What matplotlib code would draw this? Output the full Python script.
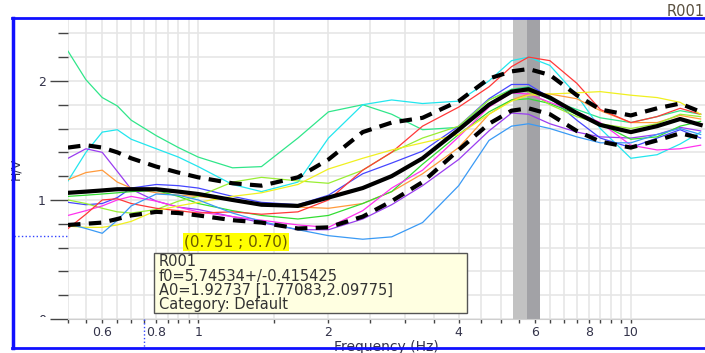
import numpy as np
import matplotlib
matplotlib.use("Agg")
import matplotlib.pyplot as plt
from matplotlib.lines import Line2D
from matplotlib.patches import Rectangle
from matplotlib.ticker import FixedLocator, FixedFormatter, NullFormatter
from matplotlib.transforms import blended_transform_factory, Bbox, TransformedBbox

# H/V spectral ratio, station R001
freq = [0.5, 0.55, 0.6, 0.65, 0.7, 0.8, 0.9, 1.0, 1.2, 1.4, 1.7, 2.0, 2.4,
        2.8, 3.3, 4.0, 4.7, 5.3, 5.8, 6.5, 7.5, 8.5, 10, 11.5, 13, 14.5]

hv_mean = [1.06, 1.07, 1.08, 1.09, 1.09, 1.09, 1.07, 1.05, 1.00, 0.96, 0.95, 1.02, 1.10,
           1.20, 1.35, 1.59, 1.80, 1.91, 1.93, 1.86, 1.73, 1.63, 1.57, 1.62, 1.68, 1.63]
hv_upper = [1.44, 1.46, 1.44, 1.40, 1.35, 1.28, 1.23, 1.19, 1.14, 1.12, 1.19, 1.34, 1.57,
            1.65, 1.69, 1.83, 2.02, 2.08, 2.10, 2.05, 1.88, 1.76, 1.71, 1.77, 1.81, 1.74]
hv_lower = [0.79, 0.80, 0.81, 0.84, 0.87, 0.90, 0.89, 0.87, 0.83, 0.81, 0.76, 0.77, 0.86,
            0.99, 1.15, 1.42, 1.64, 1.75, 1.77, 1.72, 1.58, 1.49, 1.44, 1.50, 1.56, 1.52]

# individual time windows
w_spring = [2.25, 2.01, 1.86, 1.79, 1.67, 1.54, 1.44, 1.36, 1.27, 1.28, 1.52, 1.74, 1.80,
            1.72, 1.59, 1.61, 1.84, 1.93, 1.95, 1.84, 1.76, 1.69, 1.65, 1.70, 1.75, 1.72]
w_cyan = [1.16, 1.40, 1.57, 1.59, 1.51, 1.43, 1.36, 1.28, 1.13, 1.07, 1.15, 1.52, 1.80,
          1.84, 1.81, 1.83, 2.00, 2.17, 2.20, 2.13, 1.88, 1.60, 1.35, 1.38, 1.47, 1.57]
w_purple = [1.35, 1.43, 1.40, 1.24, 1.09, 0.99, 0.94, 0.92, 0.86, 0.81, 0.75, 0.75, 0.84,
            0.96, 1.12, 1.34, 1.58, 1.73, 1.72, 1.64, 1.57, 1.53, 1.52, 1.55, 1.61, 1.58]
w_orange = [1.17, 1.23, 1.25, 1.15, 1.10, 1.06, 1.04, 1.03, 1.00, 0.97, 0.94, 0.93, 0.97,
            1.07, 1.22, 1.44, 1.72, 1.84, 1.89, 1.89, 1.85, 1.75, 1.65, 1.65, 1.71, 1.68]
w_blue = [0.98, 0.96, 0.97, 1.02, 1.10, 1.13, 1.12, 1.10, 1.03, 0.98, 0.96, 1.04, 1.22,
          1.31, 1.41, 1.62, 1.85, 1.97, 1.97, 1.86, 1.67, 1.52, 1.44, 1.52, 1.59, 1.52]
w_green = [1.03, 1.04, 1.05, 1.06, 1.07, 1.08, 1.03, 0.97, 0.91, 0.87, 0.84, 0.87, 0.97,
           1.07, 1.30, 1.55, 1.74, 1.84, 1.85, 1.81, 1.72, 1.64, 1.51, 1.53, 1.62, 1.66]
w_lime = [1.00, 0.97, 0.93, 0.90, 0.89, 0.92, 0.99, 1.03, 1.15, 1.19, 1.16, 1.14, 1.25,
          1.40, 1.52, 1.62, 1.84, 1.92, 1.91, 1.80, 1.70, 1.64, 1.60, 1.64, 1.72, 1.70]
w_magenta = [0.87, 0.91, 0.95, 1.00, 1.03, 0.99, 0.94, 0.90, 0.86, 0.83, 0.79, 0.77, 0.91,
             1.10, 1.25, 1.53, 1.78, 1.90, 1.89, 1.82, 1.74, 1.65, 1.46, 1.42, 1.43, 1.46]
w_red = [0.76, 0.88, 1.00, 1.01, 0.97, 0.93, 0.91, 0.89, 0.90, 0.88, 0.90, 1.00, 1.25,
         1.40, 1.62, 1.78, 1.95, 2.12, 2.20, 2.17, 1.98, 1.76, 1.65, 1.70, 1.77, 1.72]
w_yellow = [0.78, 0.77, 0.77, 0.79, 0.82, 0.91, 0.95, 0.98, 1.03, 1.06, 1.13, 1.26, 1.35,
            1.42, 1.48, 1.55, 1.72, 1.83, 1.88, 1.89, 1.90, 1.91, 1.88, 1.86, 1.82, 1.72]
w_dodger = [0.80, 0.76, 0.72, 0.83, 0.95, 1.05, 1.04, 1.00, 0.89, 0.82, 0.75, 0.70, 0.67,
            0.69, 0.81, 1.12, 1.50, 1.62, 1.64, 1.60, 1.53, 1.48, 1.48, 1.55, 1.60, 1.55]

windows = [
    (w_spring, "#30e68a"), (w_cyan, "#22e6ee"), (w_purple, "#9a3cf0"),
    (w_orange, "#ff9a3c"), (w_blue, "#4646ff"), (w_green, "#33dd33"),
    (w_lime, "#99ee33"), (w_magenta, "#ff33ee"), (w_red, "#ff3838"),
    (w_yellow, "#f0f020"), (w_dodger, "#3a9af5"),
]

f0 = 5.74534
f0_std = 0.415425
cursor_f = 0.751
cursor_hv = 0.70

x_major = [0.6, 0.8, 1, 2, 4, 6, 8, 10]
x_major_labels = ["0.6", "0.8", "1", "2", "4", "6", "8", "10"]
x_minor = [0.5, 0.55, 0.65, 0.7, 0.75, 0.85, 0.9, 0.95, 1.5, 2.5, 3, 3.5,
           4.5, 5, 5.5, 6.5, 7, 7.5, 8.5, 9, 9.5]
y_major = [0, 1, 2]
y_minor = [0.2, 0.4, 0.6, 0.8, 1.2, 1.4, 1.6, 1.8, 2.2, 2.4]

tooltip_lines = ["R001",
                 "f0=5.74534+/-0.415425",
                 "A0=1.92737 [1.77083,2.09775]",
                 "Category: Default"]

W, H = 705, 353


def fx(px):
    return px / W


def fy(py):
    return 1 - py / H


fig = plt.figure(figsize=(W / 100, H / 100), dpi=100)
fig.patch.set_facecolor("white")

ax = fig.add_axes([fx(68), fy(319), fx(705) - fx(68), fy(19) - fy(319)])
ax.set_xscale("log")
ax.set_xlim(0.5, 14.84)
ax.set_ylim(0, 2.52)

ax.xaxis.set_major_locator(FixedLocator(x_major))
ax.xaxis.set_major_formatter(FixedFormatter(x_major_labels))
ax.xaxis.set_minor_locator(FixedLocator(x_minor))
ax.xaxis.set_minor_formatter(NullFormatter())
ax.yaxis.set_major_locator(FixedLocator(y_major))
ax.yaxis.set_minor_locator(FixedLocator(y_minor))

for s in ax.spines.values():
    s.set_visible(False)
ax.spines["bottom"].set_visible(True)
ax.spines["bottom"].set_color("#cfcfcf")

ax.grid(True, which="both", color="#e6e6e6", linewidth=1.2, zorder=0)
ax.set_axisbelow(True)

ax.tick_params(axis="x", which="both", direction="out", length=3, width=1,
               color="#444444", labelsize=9, labelcolor="#33334a", pad=2)
ax.tick_params(axis="y", which="major", direction="out", length=13, width=1,
               color="#444444", labelsize=9, labelcolor="#33334a", pad=3)
ax.tick_params(axis="y", which="minor", direction="out", length=7, width=1,
               color="#444444")

ax.set_xlabel("Frequency (Hz)", fontsize=10, color="#33334a", labelpad=1)
ax.set_ylabel("H/V", fontsize=9, color="#33334a")
ax.yaxis.set_label_coords((22 - 68) / (705 - 68), 0.5)

# the "0" label sits mostly below the graph area and is cut there
clip = TransformedBbox(Bbox([[0, fy(317)], [1, 1]]), fig.transFigure)
for lab in ax.get_yticklabels():
    lab.set_clip_box(clip)
    lab.set_clip_on(True)

# f0 +/- std band
ax.axvspan(f0 - f0_std, f0, color="#c2c2c2", zorder=1, lw=0)
ax.axvspan(f0, f0 + f0_std, color="#a2a2a6", zorder=1, lw=0)

for vals, col in windows:
    ax.plot(freq, vals, color=col, lw=0.9, zorder=2)

ax.plot(freq, hv_upper, color="black", lw=3, ls=(0, (3, 2)), zorder=3)
ax.plot(freq, hv_lower, color="black", lw=3, ls=(0, (3, 2)), zorder=3)
ax.plot(freq, hv_mean, color="black", lw=3, zorder=3)

# cursor cross hair outside the plotting area
tr_v = blended_transform_factory(ax.transData, fig.transFigure)
tr_h = blended_transform_factory(fig.transFigure, ax.transData)
fig.add_artist(Line2D([cursor_f, cursor_f], [fy(319), fy(348)], transform=tr_v,
                      color="#3344ff", lw=1, ls=":"))
fig.add_artist(Line2D([fx(14), fx(68)], [cursor_hv, cursor_hv], transform=tr_h,
                      color="#3344ff", lw=1, ls=":"))

fig.text(fx(236), fy(242), "(%.3f ; %.2f)" % (cursor_f, cursor_hv), fontsize=11,
         color="#6a5a00", ha="center", va="center",
         bbox=dict(boxstyle="square,pad=0.1", facecolor="#ffff00", edgecolor="none"))

# tooltip
fig.add_artist(Rectangle((fx(154), fy(313)), fx(467) - fx(154), fy(253) - fy(313),
                         transform=fig.transFigure, facecolor="#ffffe1",
                         edgecolor="#555555", lw=1, zorder=5))
for i, line in enumerate(tooltip_lines):
    fig.text(fx(159), fy(262 + i * 14.3), line, fontsize=10.5, color="#333333",
             ha="left", va="center", zorder=6)

fig.text(fx(667), fy(12), "R001", fontsize=10.5, color="#5a5040", ha="left", va="center")

# blue frame around the graph
frame = dict(color="#1010ff", transform=fig.transFigure)
fig.add_artist(Line2D([fx(13), fx(13)], [fy(18), fy(348)], lw=2.5, **frame))
fig.add_artist(Line2D([fx(12), 1], [fy(18), fy(18)], lw=2, **frame))
fig.add_artist(Line2D([fx(12), 1], [fy(348), fy(348)], lw=2, **frame))

fig.savefig("out.png", dpi=100)
